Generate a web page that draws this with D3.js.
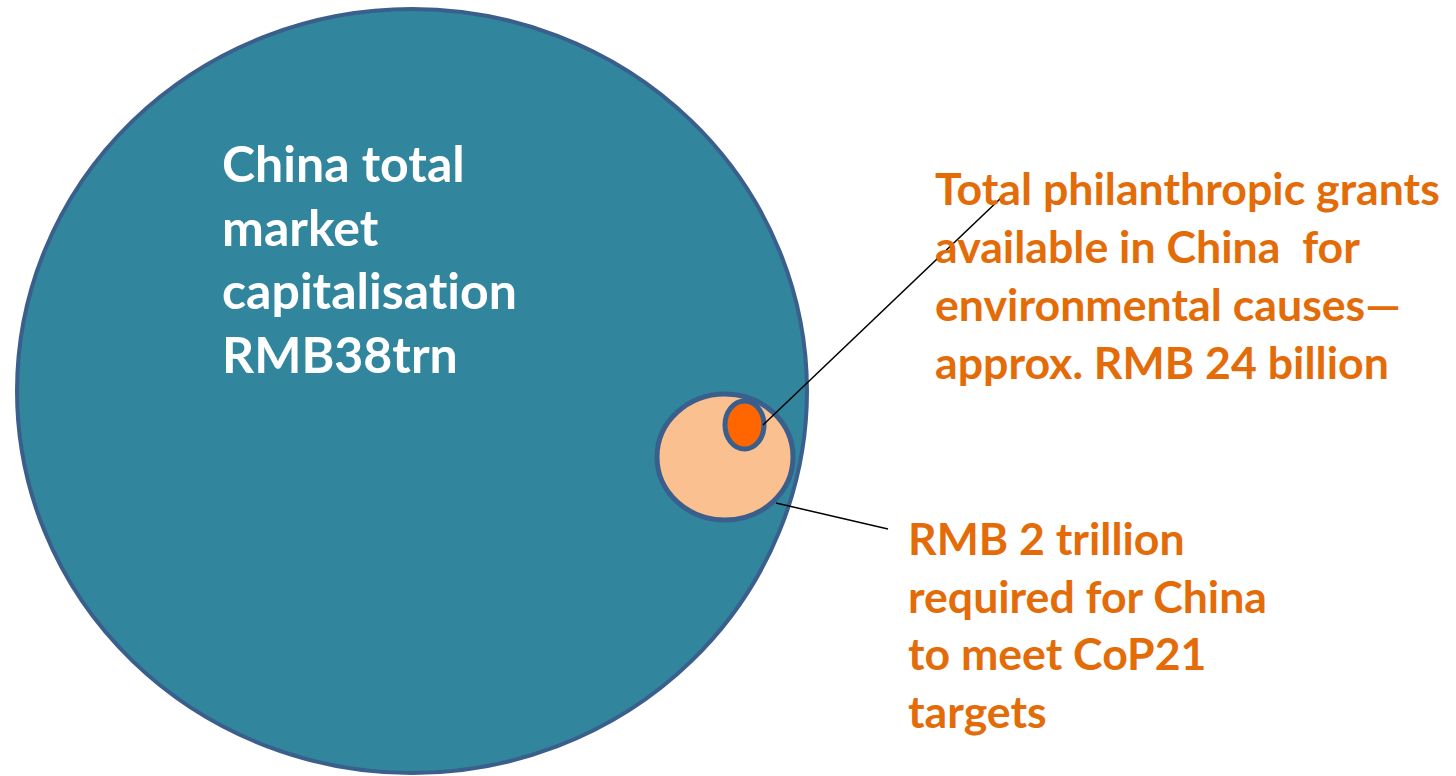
<!DOCTYPE html>
<html>
<head>
<meta charset="utf-8">
<script src="https://cdn.jsdelivr.net/npm/d3@7"></script>
<style>
  html, body { margin: 0; padding: 0; background: #fff; }
  svg { display: block; }
  text { font-family: Lato, Calibri, "Open Sans", sans-serif; font-weight: bold;
         font-variant-ligatures: none; font-feature-settings: "liga" 0, "clig" 0; }
</style>
</head>
<body>
<svg width="1456" height="776"></svg>
<script>
// values in RMB trillion
var names = ['market', 'cop21', 'grants'];
var values = [38, 2, 0.024];
var fills = ['#31859c', '#fac090', '#ff6600'];

var labelMarket = ['China total', 'market', 'capitalisation', 'RMB38trn'];
var labelGrants = ['Total philanthropic grants', 'available in China  for', 'environmental causes\u2014', 'approx. RMB 24 billion'];
var labelCop = ['RMB 2 trillion', 'required for China', 'to meet CoP21', 'targets'];

var svg = d3.select('svg');

// layout of the nested circles (not to scale in the original slide)
var shapes = [
  {cx: 412, cy: 391, rx: 395, ry: 382},
  {cx: 725, cy: 457, rx: 68, ry: 63},
  {cx: 744.5, cy: 425, rx: 19.5, ry: 24}
];

svg.selectAll('ellipse.bubble')
  .data(values)
  .enter().append('ellipse')
    .attr('class', 'bubble')
    .attr('cx', function(d, i) { return shapes[i].cx; })
    .attr('cy', function(d, i) { return shapes[i].cy; })
    .attr('rx', function(d, i) { return shapes[i].rx; })
    .attr('ry', function(d, i) { return shapes[i].ry; })
    .attr('fill', function(d, i) { return fills[i]; })
    .attr('stroke', '#3a5f8c')
    .attr('stroke-width', function(d, i) { return i == 0 ? 4 : 5; });

// callout lines
svg.append('line')
  .attr('x1', 763).attr('y1', 425).attr('x2', 1002).attr('y2', 197)
  .attr('stroke', '#000').attr('stroke-width', 1.5);
svg.append('line')
  .attr('x1', 776).attr('y1', 503).attr('x2', 888).attr('y2', 529)
  .attr('stroke', '#000').attr('stroke-width', 1.5);

// text blocks: size the font so the longest line matches the slide
var drawBlock = function(lines, x, y0, step, targetWidth, color) {
  var g = svg.append('g');
  var t = g.selectAll('text').data(lines).enter().append('text')
    .text(function(d) { return d; })
    .attr('x', x)
    .attr('y', function(d, i) { return y0 + i * step; })
    .attr('fill', color)
    .style('font-size', '100px')
    .style('white-space', 'pre');
  var w = d3.max(t.nodes(), function(n) { return n.getComputedTextLength(); });
  t.style('font-size', (100 * targetWidth / w) + 'px');
};

drawBlock(labelMarket, 222, 182, 63.5, 295, '#fff');
drawBlock(labelGrants, 935, 205, 58, 505, '#e36c09');
drawBlock(labelCop, 908, 555, 57.5, 359, '#e36c09');
</script>
</body>
</html>
